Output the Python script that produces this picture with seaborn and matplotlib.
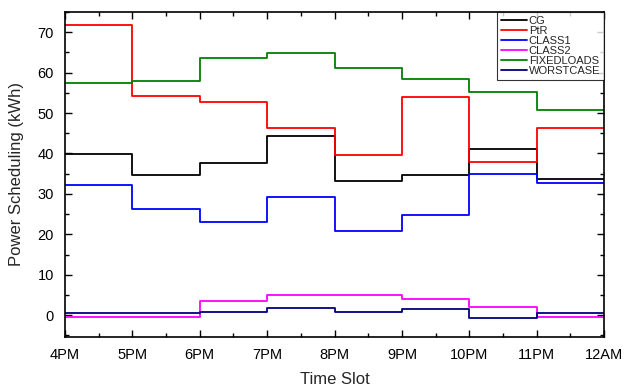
import matplotlib
matplotlib.use("Agg")
import matplotlib.pyplot as plt
import seaborn as sns
import pandas as pd
from matplotlib.ticker import MultipleLocator

hours = [0, 1, 2, 3, 4, 5, 6, 7, 8]
tick_labels = ["4PM", "5PM", "6PM", "7PM", "8PM", "9PM", "10PM", "11PM", "12AM"]

cg = [39.9, 34.7, 37.6, 44.4, 33.2, 34.6, 41.1, 33.6]
ptr = [71.8, 54.3, 52.7, 46.2, 39.6, 53.9, 37.8, 46.3]
class1 = [32.2, 26.2, 23.1, 29.2, 20.7, 24.7, 35.0, 32.6]
class2 = [-0.5, -0.5, 3.6, 4.9, 5.0, 4.0, 1.9, -0.4]
fixedloads = [57.5, 58.0, 63.6, 64.9, 61.2, 58.5, 55.2, 50.7]
worstcase = [0.6, 0.6, 0.7, 1.8, 0.7, 1.4, -0.8, 0.5]

series = {
    "CG": cg,
    "PtR": ptr,
    "CLASS1": class1,
    "CLASS2": class2,
    "FIXEDLOADS": fixedloads,
    "WORSTCASE": worstcase,
}
palette = {
    "CG": "#000000",
    "PtR": "#ff0000",
    "CLASS1": "#0000ff",
    "CLASS2": "#ff00ff",
    "FIXEDLOADS": "#008000",
    "WORSTCASE": "#000080",
}

rows = []
for name, vals in series.items():
    ext = vals + [vals[-1]]
    for h, v in zip(hours, ext):
        rows.append({"hour": h, "value": v, "series": name})
df = pd.DataFrame(rows)

sns.set_theme(style="white")
plt.rcParams["font.family"] = ["Liberation Sans", "DejaVu Sans"]

fig = plt.figure(figsize=(6.28, 3.86), dpi=100)
ax = fig.add_axes([0.1035, 0.127, 0.8585, 0.842])

sns.lineplot(data=df, x="hour", y="value", hue="series", palette=palette,
             hue_order=list(series.keys()), drawstyle="steps-post",
             linewidth=1.3, ax=ax, sort=False, estimator=None)

ax.set_xlim(0, 8)
ax.set_ylim(-5.4, 75)
ax.set_xticks(hours)
ax.set_xticklabels(tick_labels)
ax.xaxis.set_minor_locator(MultipleLocator(0.5))
ax.yaxis.set_major_locator(MultipleLocator(10))
ax.yaxis.set_minor_locator(MultipleLocator(5))
ax.tick_params(which="both", direction="in", top=True, right=True,
               bottom=True, left=True, colors="black", labelsize=10.5)
ax.tick_params(which="major", length=5, width=1)
ax.tick_params(which="minor", length=3, width=1)
ax.tick_params(axis="x", pad=8)
ax.tick_params(axis="y", pad=8)
for sp in ax.spines.values():
    sp.set_color("black")
    sp.set_linewidth(1.2)

ax.set_xlabel("Time Slot", fontsize=12, labelpad=7)
ax.set_ylabel("Power Scheduling (kWh)", fontsize=12, labelpad=10)

leg = ax.legend(loc="upper right", borderaxespad=0, fontsize=8,
                labelspacing=0.0, handlelength=2.3, handletextpad=0.2,
                borderpad=0.35, frameon=True, fancybox=False)
leg.get_frame().set_edgecolor("black")
leg.get_frame().set_linewidth(0.8)
for line in leg.get_lines():
    line.set_linewidth(1.3)

fig.savefig("out.png", dpi=100)
